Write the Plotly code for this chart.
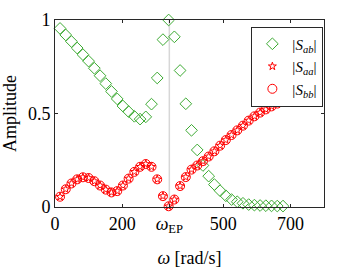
import plotly.graph_objects as go

omega = [15, 32, 49, 66, 83, 100, 117, 134, 151, 168, 185, 202, 219, 236, 253, 270, 287, 304, 321, 338,
         355, 372, 389, 406, 423, 440, 457, 474, 491, 508, 525, 542, 559, 576, 593, 610, 627, 644, 661, 678]
S_ab = [0.955, 0.92, 0.885, 0.85, 0.815, 0.78, 0.742, 0.702, 0.66, 0.618, 0.578, 0.54, 0.51, 0.485, 0.47,
        0.482, 0.55, 0.69, 0.895, 1.0, 0.91, 0.73, 0.552, 0.41, 0.305, 0.222, 0.165, 0.12, 0.087, 0.06,
        0.04, 0.028, 0.02, 0.013, 0.01, 0.008, 0.007, 0.006, 0.005, 0.005]
S_bb = [0.055, 0.095, 0.126, 0.148, 0.159, 0.155, 0.138, 0.115, 0.093, 0.078, 0.085, 0.115, 0.152, 0.188,
        0.215, 0.23, 0.215, 0.148, 0.058, 0.004, 0.04, 0.112, 0.16, 0.2, 0.222, 0.245, 0.27, 0.298, 0.328,
        0.358, 0.385, 0.41, 0.435, 0.462, 0.485, 0.505, 0.522, 0.538, 0.553, 0.565]
S_aa = list(S_bb)
omega_EP = 340
x_tickvals = [0, 200, omega_EP, 500, 700]
x_ticktext = ["0", "200", "<i>ω</i><sub>EP</sub>", "500", "700"]
y_tickvals = [0, 0.5, 1]
y_ticktext = ["0", "0.5", "1"]

green = "rgb(60,170,50)"
red = "rgb(255,0,0)"
font = "Liberation Serif, Times New Roman, serif"

fig = go.Figure()
fig.add_trace(go.Scatter(x=omega, y=S_ab, mode="markers", name="|<i>S</i><sub><i>ab</i></sub>|",
                         cliponaxis=False,
                         marker=dict(symbol="diamond-open", size=9, color=green, line=dict(width=1))))
fig.add_trace(go.Scatter(x=omega, y=S_aa, mode="markers", name="|<i>S</i><sub><i>aa</i></sub>|",
                         cliponaxis=False,
                         marker=dict(symbol="star-open", size=6, color=red, line=dict(width=1))))
fig.add_trace(go.Scatter(x=omega, y=S_bb, mode="markers", name="|<i>S</i><sub><i>bb</i></sub>|",
                         cliponaxis=False,
                         marker=dict(symbol="circle-open", size=9, color=red, line=dict(width=1))))

fig.add_shape(type="line", x0=omega_EP, x1=omega_EP, y0=0, y1=1, xref="x", yref="paper",
              line=dict(color="rgb(215,215,215)", width=1.5), layer="below")

axis_common = dict(showline=True, linecolor="rgb(40,40,40)", linewidth=1, mirror="ticks",
                   ticks="inside", ticklen=3, tickcolor="rgb(40,40,40)", showgrid=False, zeroline=False,
                   automargin=False,
                   tickfont=dict(family=font, size=18, color="black"))
fig.update_xaxes(range=[0, 800], tickvals=x_tickvals, ticktext=x_ticktext,
                 title=dict(text="<i>ω</i> [rad/s]", font=dict(family=font, size=18, color="black"), standoff=16),
                 **axis_common)
fig.update_yaxes(range=[0, 1], tickvals=y_tickvals, ticktext=y_ticktext,
                 title=dict(text="Amplitude", font=dict(family=font, size=18, color="black"), standoff=6),
                 **axis_common)

fig.update_layout(width=358, height=268, margin=dict(l=55, r=34, t=20, b=61, autoexpand=False),
                  plot_bgcolor="white", paper_bgcolor="white",
                  legend=dict(x=0.73, y=0.965, xanchor="left", yanchor="top", bgcolor="white",
                              bordercolor="rgb(40,40,40)", borderwidth=1,
                              font=dict(family=font, size=15, color="black"),
                              itemwidth=30, tracegroupgap=0),
                  showlegend=True)

fig.write_html("out.html", config={"displayModeBar": False},
               post_script="document.body.style.margin='0';document.body.style.padding='0';")
